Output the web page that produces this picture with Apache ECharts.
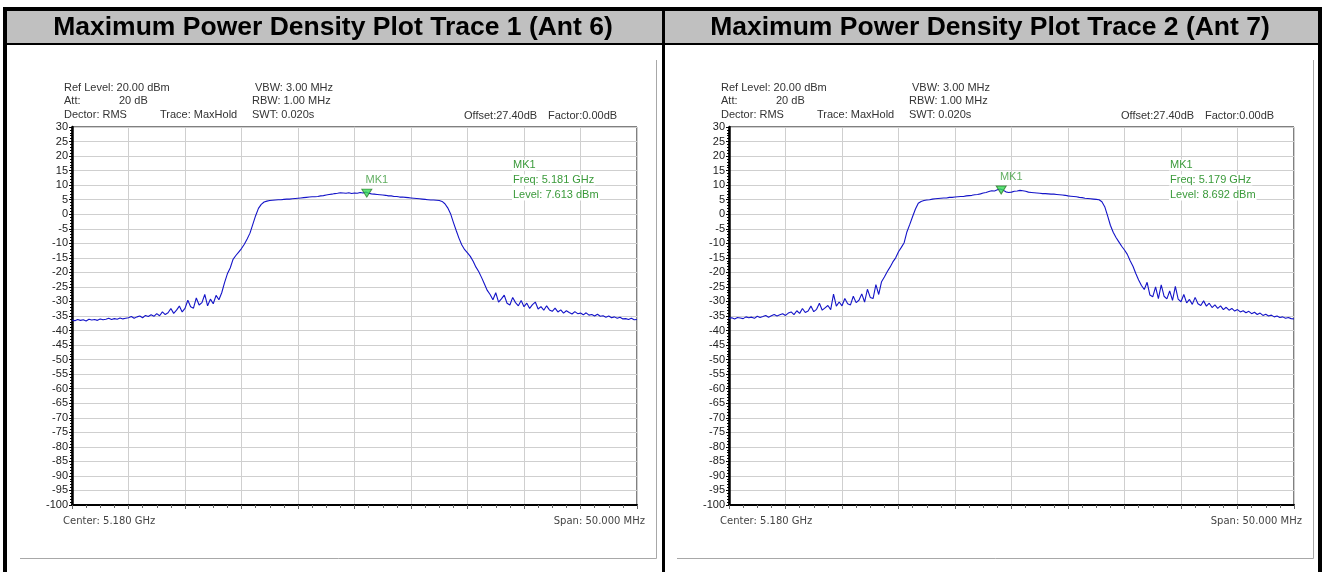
<!DOCTYPE html>
<html>
<head>
<meta charset="utf-8">
<script src="https://cdn.jsdelivr.net/npm/echarts@6/dist/echarts.min.js"></script>
<style>
  html, body { margin: 0; padding: 0; background: #fff; }
  #main { width: 1322px; height: 572px; }
</style>
</head>
<body>
<div id="main"></div>
<script>
// sweep: 5.155 - 5.205 GHz, one point every 0.25 MHz
const sweepStart = 5155
const sweepStep = 0.25

const titles = [
  'Maximum Power Density Plot Trace 1 (Ant 6)',
  'Maximum Power Density Plot Trace 2 (Ant 7)'
]
// marker MK1 [MHz, dBm]
const markers = [[5181, 7.613], [5179, 8.692]]

// trace 1 (Ant 6), dBm
const trace1 = [
  -36.4, -36.6, -36.2, -36.5, -36.3, -36.7, -36.1, -36.4, -36.2, -36.5, -36.0, -36.3, -36.1, -35.8, -36.2, -35.9, -36.1, -35.7, -36.0, -35.8,
  -35.6, -35.2, -35.8, -35.3, -35.0, -35.6, -34.8, -35.2, -34.6, -35.1, -34.2, -34.9, -33.6, -34.5, -33.9, -32.4, -34.1, -33.0, -31.6, -33.6,
  -32.4, -29.6, -31.8, -32.3, -28.8, -31.2, -30.4, -27.6, -31.5, -29.2, -30.8, -27.9, -29.4, -27.0, -23.5, -20.5, -18.5, -15.5, -14.2, -13.0,
  -11.8, -10.3, -8.5, -6.5, -3.5, -0.5, 2.0, 3.4, 4.2, 4.5, 4.7, 4.8, 4.9, 5.0, 5.0, 5.1, 5.2, 5.2, 5.3, 5.4,
  5.5, 5.6, 5.7, 5.8, 5.9, 6.0, 6.0, 6.1, 6.3, 6.4, 6.6, 6.8, 6.9, 7.1, 7.2, 7.4, 7.3, 7.2, 7.4, 7.1,
  7.3, 7.2, 7.5, 7.3, 7.61, 7.2, 7.0, 6.9, 6.8, 6.7, 6.6, 6.5, 6.3, 6.3, 6.1, 6.1, 5.9, 5.9, 5.8, 5.7,
  5.6, 5.5, 5.4, 5.3, 5.2, 5.1, 5.0, 4.9, 4.9, 4.8, 4.7, 4.4, 3.6, 2.2, 0.2, -2.8, -5.6, -8.3, -10.6, -12.2,
  -13.3, -14.5, -16.2, -18.2, -19.8, -21.8, -24.0, -26.2, -27.6, -29.4, -27.0, -30.2, -29.1, -27.8, -30.6, -31.2, -28.6, -30.4, -31.5, -29.7,
  -31.8, -30.6, -32.4, -31.1, -30.2, -32.6, -31.8, -33.0, -31.5, -32.9, -33.4, -32.3, -33.6, -32.9, -34.0, -33.2, -33.8, -34.3, -33.5, -34.2,
  -34.0, -34.6, -33.9, -34.7, -34.5, -35.0, -34.4, -35.1, -34.9, -35.4, -35.0, -35.6, -35.3, -35.8, -35.4, -36.0, -35.9, -36.2, -35.8, -36.3,
  -36.2
]

// trace 2 (Ant 7), dBm
const trace2 = [
  -35.8, -35.6, -36.0, -35.5, -35.7, -35.9, -35.3, -35.6, -35.4, -35.8, -35.1, -35.5, -35.2, -34.8, -35.4, -34.9, -34.5, -35.0, -34.6, -34.2,
  -34.8, -34.0, -33.6, -34.5, -33.2, -34.1, -32.4, -33.8, -33.3, -31.6, -33.5, -32.7, -30.6, -33.0, -32.2, -31.4, -32.8, -27.5, -31.6, -30.2,
  -31.5, -29.0, -30.8, -31.2, -28.2, -30.4, -29.6, -27.4, -30.2, -25.8, -28.6, -29.0, -24.2, -27.6, -23.2, -21.6, -19.8, -18.2, -16.4, -15.0,
  -12.9, -11.4, -9.8, -6.0, -3.5, -0.8, 1.8, 3.8, 4.4, 4.7, 4.9, 5.0, 5.2, 5.3, 5.4, 5.5, 5.6, 5.6, 5.8, 5.8,
  5.9, 6.0, 6.1, 6.1, 6.3, 6.4, 6.5, 6.7, 6.8, 7.0, 7.3, 7.5, 7.8, 8.1, 8.0, 8.4, 8.69, 8.3, 7.7, 7.5,
  7.6, 7.9, 8.0, 8.2, 8.1, 7.9, 7.6, 7.5, 7.4, 7.3, 7.2, 7.1, 7.1, 7.0, 6.9, 6.9, 6.8, 6.7, 6.6, 6.5,
  6.3, 6.2, 6.1, 6.0, 5.8, 5.7, 5.5, 5.4, 5.3, 5.2, 5.1, 5.0, 4.3, 2.6, -0.5, -3.8, -6.2, -8.0, -9.5, -11.0,
  -12.3, -13.8, -16.0, -17.9, -20.4, -22.6, -24.5, -25.9, -23.4, -27.8, -28.4, -25.0, -29.0, -24.3, -28.2, -29.1, -26.4, -29.6, -24.8, -29.2,
  -30.1, -27.6, -30.5, -29.3, -31.0, -28.6, -30.8, -31.4, -29.8, -31.6, -30.6, -32.1, -31.2, -32.4, -31.5, -32.8, -32.0, -33.0, -32.4, -33.3,
  -32.8, -33.6, -33.2, -33.9, -33.4, -34.2, -33.7, -34.5, -34.0, -34.8, -34.4, -35.0, -34.7, -35.3, -35.0, -35.5, -35.3, -35.8, -35.5, -35.9,
  -36.0
]

const traces = [trace1, trace2]

const chart = echarts.init(document.getElementById('main'))

const FONT = 'Arial, "Liberation Sans", sans-serif'
const panelX = [0, 657] // horizontal offset of the right panel

function txt(x, y, s, opt) {
  return {
    type: 'text', x: x, y: y, silent: true,
    style: Object.assign({
      text: s, font: '11px ' + FONT, fill: '#333', verticalAlign: 'middle'
    }, opt || {})
  }
}

const grids = []
const xAxes = []
const yAxes = []
const series = []
const graphic = []

// frame: black borders and grey header band
graphic.push(
  { type: 'rect', shape: { x: 7, y: 11, width: 1311, height: 32 }, style: { fill: '#c0c0c0' }, silent: true },
  { type: 'rect', shape: { x: 4, y: 7, width: 1318, height: 4 }, style: { fill: '#000' }, silent: true },
  { type: 'rect', shape: { x: 4, y: 43, width: 1318, height: 2 }, style: { fill: '#000' }, silent: true },
  { type: 'rect', shape: { x: 3, y: 7, width: 4, height: 565 }, style: { fill: '#000' }, silent: true },
  { type: 'rect', shape: { x: 662, y: 7, width: 3, height: 565 }, style: { fill: '#000' }, silent: true },
  { type: 'rect', shape: { x: 1318, y: 7, width: 4, height: 565 }, style: { fill: '#000' }, silent: true }
)

titles.forEach(function(title, i) {
  const ox = panelX[i]
  const mk = markers[i]
  const green = { fill: '#3a9a3a', backgroundColor: '#fff', padding: [0, 1] }

  graphic.push(txt(333 + ox, 28, title, {
    font: 'bold 26.5px ' + FONT, fill: '#000', align: 'center'
  }))

  // screenshot border
  graphic.push(
    { type: 'line', shape: { x1: 656.5 + ox, y1: 60, x2: 656.5 + ox, y2: 558.5 }, style: { stroke: '#a8a8a8', lineWidth: 1 }, silent: true },
    { type: 'line', shape: { x1: 20 + ox, y1: 558.5, x2: 656.5 + ox, y2: 558.5 }, style: { stroke: '#a8a8a8', lineWidth: 1 }, silent: true }
  )

  // instrument settings
  graphic.push(
    txt(64 + ox, 88, 'Ref Level: 20.00 dBm'),
    txt(64 + ox, 101, 'Att:'),
    txt(119 + ox, 101, '20 dB'),
    txt(64 + ox, 115, 'Dector: RMS'),
    txt(160 + ox, 115, 'Trace: MaxHold'),
    txt(255 + ox, 88, 'VBW: 3.00 MHz'),
    txt(252 + ox, 101, 'RBW: 1.00 MHz'),
    txt(252 + ox, 115, 'SWT: 0.020s'),
    txt(464 + ox, 116, 'Offset:27.40dB'),
    txt(548 + ox, 116, 'Factor:0.00dB'),
    txt(63 + ox, 521, 'Center: 5.180 GHz', { font: '10px "DejaVu Sans", sans-serif', fill: '#444' }),
    txt(645 + ox, 521, 'Span: 50.000 MHz', { font: '10px "DejaVu Sans", sans-serif', fill: '#444', align: 'right' })
  )

  // marker readout (z above the grid so the text hides the grid lines)
  const readout = [
    'MK1',
    'Freq: ' + (mk[0] / 1000).toFixed(3) + ' GHz',
    'Level: ' + mk[1].toFixed(3) + ' dBm'
  ]
  readout.forEach(function(s, k) {
    const t = txt(512 + ox, 165 + k * 15, s, green)
    t.z = 10
    graphic.push(t)
  })

  grids.push({
    left: 72 + ox, top: 127, width: 565, height: 378,
    show: true, backgroundColor: '#fff', borderColor: '#000', borderWidth: 1
  })

  xAxes.push({
    gridIndex: i, type: 'value', min: 5155, max: 5205, interval: 5,
    axisLine: { onZero: false, lineStyle: { color: '#000', width: 2 } },
    axisTick: { length: 4, lineStyle: { color: '#666' } },
    minorTick: { show: true, splitNumber: 4, length: 3, lineStyle: { color: '#666' } },
    axisLabel: { show: false },
    splitLine: { show: true, lineStyle: { color: '#cfcfcf', width: 1 } }
  })

  yAxes.push({
    gridIndex: i, type: 'value', min: -100, max: 30, interval: 5,
    axisLine: { show: true, onZero: false, lineStyle: { color: '#000', width: 2.5 } },
    axisTick: { show: true, length: 3, lineStyle: { color: '#000' } },
    minorTick: { show: true, splitNumber: 5, length: 2, lineStyle: { color: '#000' } },
    axisLabel: { fontSize: 11, fontFamily: FONT, color: '#222', margin: 4 },
    splitLine: { show: true, lineStyle: { color: '#cfcfcf', width: 1 } }
  })

  series.push({
    type: 'line', xAxisIndex: i, yAxisIndex: i,
    data: traces[i].map(function(v, k) { return [sweepStart + k * sweepStep, v] }),
    showSymbol: false, symbol: 'none',
    lineStyle: { color: '#1414c8', width: 1.1 },
    silent: true, z: 3
  })

  series.push({
    type: 'scatter', xAxisIndex: i, yAxisIndex: i,
    data: [mk],
    symbol: 'triangle', symbolRotate: 180, symbolSize: [10, 8], symbolOffset: [1, 1],
    itemStyle: { color: '#33dd55', borderColor: '#2a7a2a', borderWidth: 1 },
    label: {
      show: true, formatter: 'MK1', position: 'top', offset: [10, 2],
      fontSize: 11, fontFamily: FONT, color: '#3a9a3a'
    },
    silent: true, z: 5
  })
})

chart.setOption({
  animation: false,
  backgroundColor: '#fff',
  grid: grids,
  xAxis: xAxes,
  yAxis: yAxes,
  series: series,
  graphic: graphic
})
</script>
</body>
</html>
